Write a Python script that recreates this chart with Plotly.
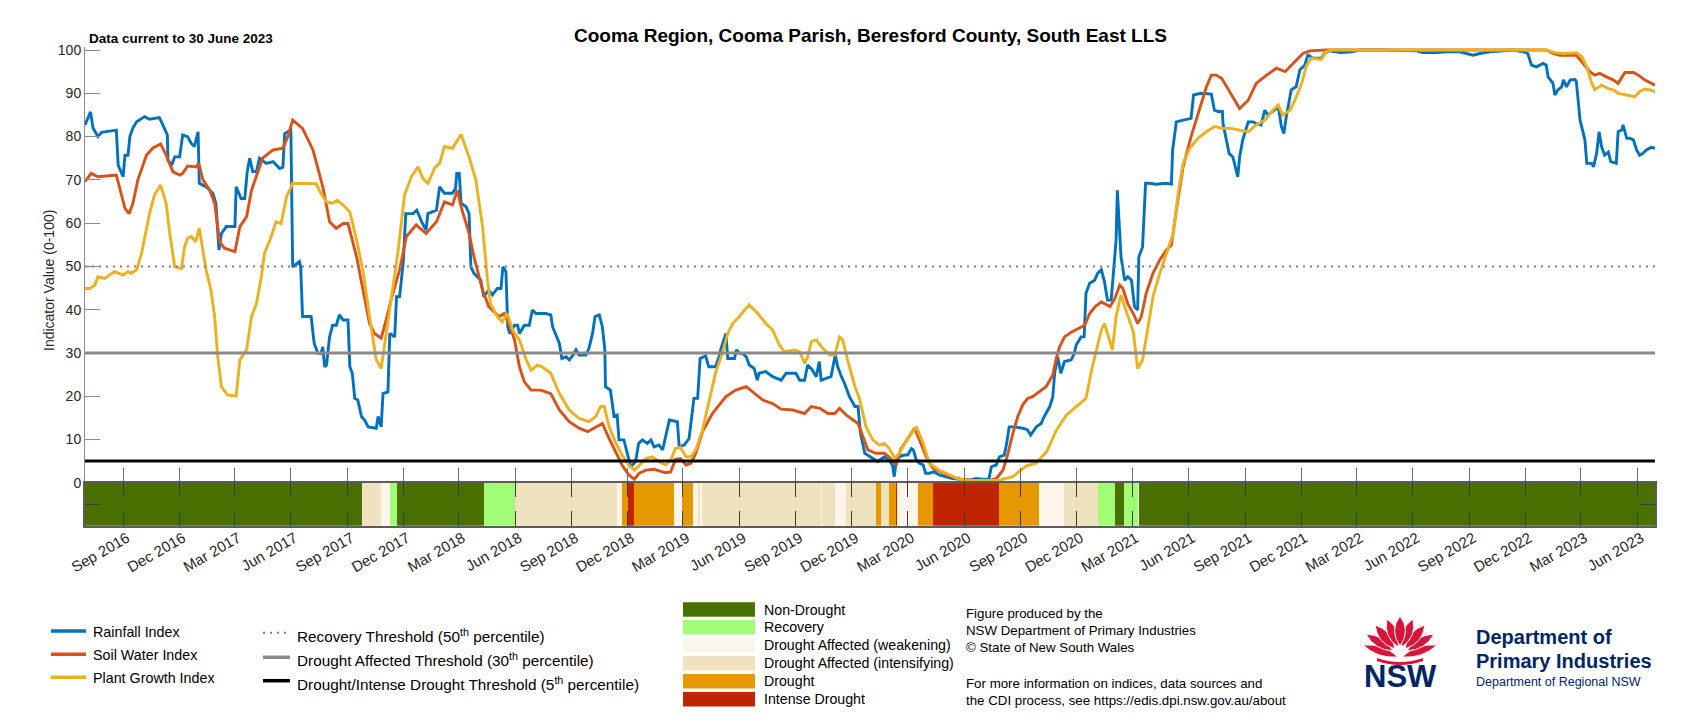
import math
import plotly.graph_objects as go

# ---------------- data ----------------
X_START = "2016-07-01"
X_END = "2023-06-30"

RAIN_DATES = ["2016-07-01","2016-07-10","2016-07-14","2016-07-22","2016-07-28","2016-08-21","2016-08-24","2016-09-01","2016-09-04","2016-09-09","2016-09-12","2016-09-17","2016-09-23","2016-10-06","2016-10-14","2016-10-30","2016-11-02","2016-11-08","2016-11-12","2016-11-13","2016-11-19","2016-11-24","2016-12-02","2016-12-07","2016-12-15","2016-12-21","2016-12-26","2017-01-01","2017-01-03","2017-01-14","2017-01-25","2017-01-30","2017-02-02","2017-02-04","2017-02-08","2017-02-16","2017-03-02","2017-03-04","2017-03-12","2017-03-18","2017-03-22","2017-03-26","2017-03-31","2017-04-06","2017-04-11","2017-04-22","2017-05-03","2017-05-14","2017-05-19","2017-05-22","2017-06-01","2017-06-04","2017-06-15","2017-06-17","2017-06-20","2017-07-04","2017-07-09","2017-07-15","2017-07-20","2017-07-23","2017-07-26","2017-07-29","2017-08-03","2017-08-08","2017-08-14","2017-08-19","2017-08-25","2017-09-02","2017-09-05","2017-09-09","2017-09-13","2017-09-18","2017-09-24","2017-09-29","2017-10-05","2017-10-18","2017-10-21","2017-10-26","2017-10-29","2017-11-06","2017-11-09","2017-11-17","2017-11-20","2017-11-25","2017-12-01","2017-12-05","2017-12-17","2017-12-23","2017-12-31","2018-01-07","2018-01-10","2018-01-24","2018-01-29","2018-02-06","2018-02-19","2018-02-24","2018-02-26","2018-03-02","2018-03-05","2018-03-13","2018-03-18","2018-03-21","2018-03-26","2018-04-06","2018-04-11","2018-04-19","2018-04-25","2018-05-03","2018-05-09","2018-05-12","2018-05-17","2018-05-20","2018-05-23","2018-05-31","2018-06-05","2018-06-08","2018-06-16","2018-06-24","2018-06-29","2018-07-05","2018-07-21","2018-07-29","2018-08-01","2018-08-07","2018-08-12","2018-08-16","2018-08-23","2018-08-28","2018-09-03","2018-09-08","2018-09-13","2018-09-24","2018-09-29","2018-10-05","2018-10-09","2018-10-16","2018-10-21","2018-10-25","2018-10-26","2018-11-03","2018-11-09","2018-11-14","2018-11-17","2018-11-25","2018-11-28","2018-12-02","2018-12-06","2018-12-14","2018-12-19","2018-12-25","2019-01-02","2019-01-08","2019-01-13","2019-01-21","2019-01-27","2019-02-07","2019-02-20","2019-02-23","2019-03-03","2019-03-11","2019-03-14","2019-03-19","2019-03-25","2019-03-29","2019-04-07","2019-04-12","2019-04-23","2019-04-29","2019-05-02","2019-05-10","2019-05-13","2019-05-24","2019-05-27","2019-06-01","2019-06-06","2019-06-12","2019-06-17","2019-06-25","2019-06-30","2019-07-03","2019-07-14","2019-07-25","2019-08-08","2019-08-16","2019-09-01","2019-09-07","2019-09-15","2019-09-20","2019-09-28","2019-10-04","2019-10-09","2019-10-12","2019-10-20","2019-10-28","2019-11-04","2019-11-08","2019-11-14","2019-11-19","2019-11-27","2019-12-06","2019-12-11","2019-12-15","2019-12-22","2020-01-01","2020-01-12","2020-01-23","2020-01-31","2020-02-05","2020-02-08","2020-02-11","2020-02-16","2020-02-24","2020-03-01","2020-03-07","2020-03-10","2020-03-15","2020-03-20","2020-03-26","2020-03-30","2020-04-05","2020-04-13","2020-04-21","2020-04-30","2020-05-11","2020-05-24","2020-06-10","2020-06-20","2020-07-01","2020-07-11","2020-07-15","2020-07-23","2020-07-28","2020-08-05","2020-08-09","2020-08-13","2020-08-22","2020-09-04","2020-09-12","2020-09-17","2020-09-26","2020-10-04","2020-10-09","2020-10-18","2020-10-23","2020-10-26","2020-10-31","2020-11-05","2020-11-11","2020-11-22","2020-11-27","2020-11-30","2020-12-08","2020-12-13","2020-12-16","2020-12-22","2020-12-30","2021-01-04","2021-01-10","2021-01-15","2021-01-20","2021-01-26","2021-01-30","2021-02-03","2021-02-05","2021-02-07","2021-02-11","2021-02-17","2021-02-22","2021-02-28","2021-03-05","2021-03-10","2021-03-12","2021-03-18","2021-03-23","2021-03-29","2021-04-09","2021-04-25","2021-05-04","2021-05-06","2021-05-12","2021-05-23","2021-06-05","2021-06-09","2021-06-21","2021-07-08","2021-07-13","2021-07-19","2021-07-26","2021-07-27","2021-08-06","2021-08-12","2021-08-20","2021-08-23","2021-08-28","2021-09-06","2021-09-14","2021-09-19","2021-09-27","2021-10-03","2021-10-08","2021-10-16","2021-10-25","2021-10-30","2021-11-03","2021-11-07","2021-11-15","2021-11-23","2021-11-29","2021-12-07","2021-12-12","2021-12-15","2021-12-20","2022-01-03","2022-01-08","2022-01-16","2022-02-04","2022-02-21","2022-03-07","2022-04-08","2022-06-07","2022-06-17","2022-07-09","2022-07-26","2022-08-16","2022-09-07","2022-09-18","2022-10-04","2022-11-11","2022-11-28","2022-12-05","2022-12-11","2022-12-19","2022-12-30","2023-01-04","2023-01-07","2023-01-15","2023-01-18","2023-01-23","2023-01-29","2023-02-01","2023-02-06","2023-02-12","2023-02-20","2023-02-22","2023-02-28","2023-03-04","2023-03-08","2023-03-11","2023-03-19","2023-03-22","2023-03-27","2023-03-31","2023-04-04","2023-04-09","2023-04-15","2023-04-19","2023-04-28","2023-05-01","2023-05-07","2023-05-09","2023-05-15","2023-05-20","2023-05-26","2023-05-31","2023-06-05","2023-06-10","2023-06-16","2023-06-24","2023-06-30"]
RAIN_VALUES = [82.7,85.7,82.0,80.0,81.0,81.5,73.4,70.7,75.7,75.7,80.0,82.0,83.4,84.6,84.0,84.4,83.5,81.5,80.4,74.6,73.4,75.3,75.3,80.4,80.0,78.4,77.7,81.1,69.2,68.4,66.9,64.6,59.2,53.8,57.6,59.2,59.2,68.4,65.7,65.7,71.9,75.0,71.9,71.9,75.0,73.8,74.2,72.6,72.9,80.7,81.5,49.9,51.1,49.9,38.4,38.4,32.2,29.9,29.9,31.4,26.8,27.2,33.7,36.4,36.4,38.8,37.6,37.6,26.8,25.3,19.5,19.1,15.3,14.5,12.9,12.6,15.3,12.9,20.6,21.0,34.5,33.7,43.0,43.0,51.1,62.2,62.2,63.0,60.3,58.4,62.2,63.0,68.4,66.9,66.9,68.0,71.5,71.5,64.6,63.8,62.2,49.9,48.4,46.8,43.0,44.5,43.4,44.9,44.9,49.9,48.8,36.0,34.5,36.4,36.4,34.5,36.4,36.4,39.9,39.1,39.1,38.8,36.0,33.7,32.2,28.7,29.1,28.4,29.5,30.7,29.5,29.5,31.0,34.5,38.4,38.8,36.0,30.7,22.2,21.4,15.3,15.6,9.9,9.9,8.3,6.0,3.7,4.9,9.1,9.9,9.1,9.9,8.3,8.7,7.6,14.5,14.1,8.3,8.7,10.2,13.7,19.5,19.5,28.7,29.3,26.8,26.8,29.1,31.0,34.5,28.7,28.7,30.7,29.9,29.9,29.1,27.2,26.4,23.7,25.3,25.7,24.5,23.7,25.3,25.3,23.7,23.7,27.2,26.0,24.5,28.0,23.7,24.1,24.5,29.5,26.8,24.5,23.0,19.9,17.6,17.6,11.4,6.8,5.9,4.9,6.0,5.1,4.1,1.4,4.9,6.0,6.4,6.4,7.9,7.6,5.2,4.5,4.1,2.2,2.2,2.5,1.8,1.4,1.0,0.8,0.6,1.0,0.8,0.8,3.7,4.1,6.0,6.4,9.1,12.9,12.9,12.6,12.2,11.0,12.9,13.7,15.3,17.6,19.9,25.3,29.1,25.3,28.0,28.4,29.9,31.8,33.7,33.7,43.8,46.1,46.8,48.4,49.2,46.5,42.2,42.2,48.4,56.1,67.6,62.2,52.2,46.8,47.6,46.8,40.7,39.9,52.2,54.5,69.2,69.2,69.0,69.2,69.0,76.9,83.4,83.8,84.2,89.6,90.0,89.8,86.1,85.8,85.8,83.0,76.1,75.3,70.7,75.3,79.2,83.4,83.4,83.0,82.7,86.1,85.0,85.8,86.9,82.3,80.7,84.6,90.8,91.5,95.4,96.5,98.8,98.6,98.1,98.1,99.2,99.8,99.4,99.6,100.0,100.0,99.8,99.4,99.4,99.6,99.6,98.8,99.2,99.6,100.0,99.6,99.2,96.5,96.1,96.9,96.5,93.8,92.3,89.6,90.8,91.5,93.1,91.5,93.1,93.2,92.7,83.8,81.5,79.2,73.8,73.8,73.0,76.1,81.1,77.7,75.7,76.4,74.2,73.8,81.1,81.5,82.7,79.6,79.6,79.2,76.9,75.7,76.1,76.9,77.5,77.3]

SOIL_DATES = ["2016-07-01","2016-07-11","2016-07-22","2016-08-21","2016-08-26","2016-09-04","2016-09-11","2016-09-17","2016-09-25","2016-10-09","2016-10-19","2016-11-01","2016-11-10","2016-11-21","2016-12-02","2016-12-07","2016-12-15","2016-12-29","2017-01-02","2017-01-09","2017-01-20","2017-01-28","2017-02-05","2017-02-13","2017-03-02","2017-03-10","2017-03-21","2017-03-29","2017-04-16","2017-05-03","2017-05-19","2017-05-27","2017-06-04","2017-06-20","2017-07-07","2017-07-23","2017-08-03","2017-08-14","2017-08-25","2017-09-02","2017-09-16","2017-09-27","2017-10-07","2017-10-15","2017-10-26","2017-11-03","2017-11-11","2017-11-25","2017-12-06","2017-12-22","2018-01-07","2018-01-24","2018-02-06","2018-02-19","2018-02-27","2018-03-05","2018-03-18","2018-03-26","2018-04-09","2018-04-19","2018-04-25","2018-05-06","2018-05-14","2018-05-22","2018-05-31","2018-06-08","2018-06-16","2018-06-27","2018-07-13","2018-07-29","2018-08-12","2018-08-28","2018-09-13","2018-09-27","2018-10-07","2018-10-21","2018-11-01","2018-11-12","2018-11-22","2018-12-03","2018-12-12","2018-12-20","2018-12-31","2019-01-13","2019-02-01","2019-02-09","2019-02-17","2019-02-25","2019-03-06","2019-03-14","2019-03-22","2019-04-02","2019-04-18","2019-05-10","2019-05-26","2019-06-12","2019-06-22","2019-07-09","2019-07-25","2019-08-08","2019-08-27","2019-09-15","2019-09-26","2019-10-10","2019-10-23","2019-11-03","2019-11-11","2019-11-22","2019-12-11","2019-12-19","2019-12-27","2020-01-09","2020-01-23","2020-01-31","2020-02-11","2020-02-19","2020-03-01","2020-03-12","2020-03-20","2020-03-31","2020-04-11","2020-04-27","2020-05-11","2020-05-27","2020-06-20","2020-07-12","2020-07-23","2020-08-03","2020-08-11","2020-08-19","2020-08-27","2020-09-04","2020-09-12","2020-09-20","2020-10-01","2020-10-12","2020-10-23","2020-10-28","2020-11-03","2020-11-11","2020-11-22","2020-12-03","2020-12-14","2020-12-22","2020-12-31","2021-01-10","2021-01-18","2021-01-24","2021-02-01","2021-02-09","2021-02-14","2021-02-22","2021-03-03","2021-03-10","2021-03-16","2021-03-24","2021-04-04","2021-04-15","2021-04-26","2021-05-04","2021-05-12","2021-05-23","2021-06-05","2021-06-16","2021-06-30","2021-07-08","2021-07-16","2021-07-25","2021-08-07","2021-08-23","2021-09-06","2021-09-19","2021-10-06","2021-10-22","2021-11-05","2021-11-18","2021-12-04","2021-12-15","2022-01-11","2023-01-04","2023-01-15","2023-01-26","2023-02-22","2023-03-05","2023-03-16","2023-03-24","2023-04-01","2023-04-12","2023-04-23","2023-05-01","2023-05-12","2023-05-26","2023-06-03","2023-06-13","2023-06-30"]
SOIL_VALUES = [69.6,71.5,70.7,71.1,68.4,63.4,62.2,64.6,70.0,75.7,77.3,78.3,75.7,71.9,71.1,71.5,73.2,73.0,73.8,70.0,67.6,64.6,55.7,54.2,53.4,59.2,61.5,67.6,75.0,76.9,77.3,80.0,83.8,81.9,76.9,68.4,60.3,58.8,59.9,59.9,52.2,44.5,36.8,34.5,33.4,37.6,42.2,49.2,56.9,59.6,57.6,60.3,64.9,64.2,67.6,63.8,57.6,52.2,44.5,40.7,39.9,38.4,39.1,36.8,33.0,26.8,23.3,21.4,21.4,20.6,16.8,14.1,12.6,11.8,12.6,13.7,10.2,7.2,4.1,1.8,0.8,2.2,2.9,3.1,2.3,2.5,5.4,5.6,4.1,4.5,6.8,11.8,16.0,19.9,21.4,22.2,21.0,19.1,18.3,17.0,16.8,16.0,17.6,17.2,16.0,16.0,17.2,15.6,13.7,10.6,7.6,6.8,6.8,5.9,4.1,7.9,10.2,12.6,9.9,6.0,3.3,2.2,1.4,0.8,0.5,0.5,1.0,2.9,6.8,11.4,15.3,18.0,19.5,19.9,21.0,22.2,24.9,28.4,31.4,33.7,34.8,35.6,36.4,39.1,40.7,41.8,41.1,40.7,42.6,45.7,44.9,41.4,39.1,36.8,38.4,43.8,48.4,51.5,53.8,54.9,63.0,73.0,80.0,85.0,91.5,94.2,94.2,93.4,90.4,86.5,88.4,92.3,94.2,95.8,95.0,96.9,99.2,99.8,100.0,100.0,99.2,98.8,98.8,96.9,95.0,94.2,94.6,93.8,93.1,92.3,94.8,94.8,94.2,93.1,91.9]

PLANT_DATES = ["2016-07-01","2016-07-09","2016-07-17","2016-07-22","2016-08-02","2016-08-10","2016-08-18","2016-09-01","2016-09-09","2016-09-14","2016-09-23","2016-10-01","2016-10-09","2016-10-14","2016-10-22","2016-11-01","2016-11-10","2016-11-16","2016-11-24","2016-12-05","2016-12-10","2016-12-15","2016-12-21","2016-12-28","2017-01-03","2017-01-09","2017-01-14","2017-01-22","2017-01-28","2017-02-02","2017-02-08","2017-02-18","2017-03-04","2017-03-10","2017-03-21","2017-03-29","2017-04-06","2017-04-14","2017-04-19","2017-04-28","2017-05-08","2017-05-16","2017-05-25","2017-06-04","2017-06-20","2017-07-12","2017-07-20","2017-07-29","2017-08-08","2017-08-16","2017-08-25","2017-09-05","2017-09-16","2017-09-27","2017-10-07","2017-10-18","2017-10-26","2017-11-03","2017-11-14","2017-11-22","2017-12-03","2017-12-14","2017-12-25","2018-01-02","2018-01-10","2018-01-21","2018-01-29","2018-02-06","2018-02-19","2018-03-05","2018-03-18","2018-03-29","2018-04-09","2018-04-17","2018-04-22","2018-05-03","2018-05-11","2018-05-19","2018-05-28","2018-06-08","2018-06-19","2018-06-27","2018-07-07","2018-07-15","2018-07-29","2018-08-12","2018-08-28","2018-09-13","2018-09-29","2018-10-10","2018-10-18","2018-10-24","2018-11-01","2018-11-12","2018-11-22","2018-12-03","2018-12-12","2018-12-20","2018-12-31","2019-01-10","2019-01-21","2019-02-01","2019-02-09","2019-02-17","2019-02-25","2019-03-06","2019-03-14","2019-03-22","2019-04-02","2019-04-13","2019-04-23","2019-05-04","2019-05-13","2019-05-21","2019-06-01","2019-06-09","2019-06-17","2019-07-01","2019-07-14","2019-07-25","2019-08-05","2019-08-13","2019-08-30","2019-09-07","2019-09-15","2019-09-20","2019-09-26","2019-10-04","2019-10-15","2019-10-26","2019-11-03","2019-11-11","2019-11-16","2019-11-24","2019-12-06","2019-12-14","2019-12-24","2020-01-04","2020-01-15","2020-01-23","2020-01-31","2020-02-09","2020-02-16","2020-02-27","2020-03-15","2020-03-26","2020-04-05","2020-04-21","2020-05-08","2020-05-24","2020-06-15","2020-07-06","2020-07-28","2020-08-19","2020-09-02","2020-09-10","2020-09-26","2020-10-13","2020-10-29","2020-11-14","2020-11-30","2020-12-16","2020-12-25","2021-01-02","2021-01-10","2021-01-15","2021-01-21","2021-01-28","2021-02-03","2021-02-11","2021-02-19","2021-03-03","2021-03-10","2021-03-18","2021-03-27","2021-04-04","2021-04-15","2021-04-26","2021-05-07","2021-05-15","2021-05-23","2021-06-03","2021-06-16","2021-06-30","2021-07-13","2021-07-27","2021-08-09","2021-08-23","2021-09-06","2021-09-19","2021-10-03","2021-10-16","2021-10-25","2021-11-01","2021-11-13","2021-11-21","2021-12-02","2021-12-10","2021-12-18","2022-01-03","2022-01-11","2022-01-19","2023-01-04","2023-01-18","2023-02-01","2023-02-22","2023-03-03","2023-03-11","2023-03-19","2023-03-24","2023-04-04","2023-04-15","2023-04-23","2023-05-01","2023-05-15","2023-05-28","2023-06-05","2023-06-13","2023-06-22","2023-06-30"]
PLANT_VALUES = [44.9,44.9,45.7,47.6,47.2,48.0,48.8,48.0,48.8,48.4,49.2,53.0,59.2,62.2,66.5,68.8,64.6,57.6,49.9,49.5,54.5,56.5,56.9,55.7,58.8,53.8,49.2,44.5,38.4,29.1,22.2,20.3,20.0,28.4,30.7,38.4,41.4,47.6,53.0,56.1,60.3,59.9,66.1,69.2,69.1,69.1,66.9,64.9,64.6,65.3,64.2,62.6,56.1,48.4,38.4,28.4,26.4,34.5,44.5,53.0,66.5,70.7,73.0,70.3,69.2,72.7,73.8,77.7,77.3,80.5,75.3,70.0,59.2,46.8,41.4,38.4,37.2,39.1,35.3,33.0,28.4,26.0,27.2,26.8,25.3,20.6,16.8,14.9,14.1,15.3,17.6,17.6,12.9,9.1,6.4,4.1,2.9,4.1,5.6,6.0,4.9,4.1,5.2,7.9,8.2,6.0,6.0,7.6,12.2,19.1,25.3,29.9,34.5,36.8,38.4,39.9,41.1,39.1,36.8,35.3,31.8,30.3,30.7,30.3,27.6,29.1,32.6,33.0,31.0,29.5,29.5,33.7,33.0,28.4,22.2,19.1,12.9,9.9,8.7,9.1,7.9,5.6,6.8,9.5,12.9,9.1,4.5,2.9,1.8,0.8,0.5,0.5,0.6,1.4,2.9,3.9,4.5,7.2,12.2,15.6,17.6,19.5,26.0,31.0,35.3,36.8,33.7,30.7,38.4,43.4,39.9,34.9,26.4,28.4,36.0,43.0,48.4,53.0,57.6,66.9,73.8,77.3,79.6,81.1,82.3,81.9,81.9,81.5,81.1,82.7,83.8,86.1,87.3,84.9,86.1,88.4,92.3,96.5,98.1,97.8,99.6,100.0,100.0,99.4,99.2,99.4,98.5,96.1,92.3,90.8,91.9,91.1,90.8,90.0,89.6,89.2,90.4,91.0,90.8,90.4]

SERIES_NAMES = ["Rainfall Index", "Soil Water Index", "Plant Growth Index"]
SERIES_COLORS = ["#0072BD", "#D95319", "#EDB120"]

THRESHOLD_VALUES = [50, 30, 5]
THRESHOLD_NAMES = ["Recovery Threshold (50<sup>th</sup> percentile)",
                   "Drought Affected Threshold (30<sup>th</sup> percentile)",
                   "Drought/Intense Drought Threshold (5<sup>th</sup> percentile)"]

CAT_NAMES = ["Non-Drought", "Recovery", "Drought Affected (weakening)",
             "Drought Affected (intensifying)", "Drought", "Intense Drought"]
CAT_COLORS = ["#4a7002", "#a2fd76", "#fdf5ea", "#eee2bf", "#e59800", "#bf2500"]

BAND_STARTS = ["2016-07-01","2017-09-25","2017-10-26","2017-11-09","2017-11-20","2018-04-12","2018-06-01",
               "2018-11-14","2018-11-22","2018-12-01","2018-12-12","2019-02-15","2019-02-27","2019-03-18",
               "2019-03-26","2019-03-29","2019-04-01","2019-10-11","2019-10-14","2019-11-03","2019-11-22",
               "2020-01-09","2020-01-17","2020-01-31","2020-02-10","2020-02-12","2020-03-17","2020-04-11",
               "2020-07-27","2020-10-01","2020-11-11","2021-01-05","2021-02-01","2021-02-16","2021-03-11",
               "2021-03-12"]
BAND_CATS = [0, 3, 2, 1, 0, 1, 3,
             2, 4, 5, 4, 2, 4, 2,
             3, 2, 3, 2, 3, 2, 3,
             4, 3, 4, 5, 2, 4, 5,
             4, 2, 3, 1, 0, 1, 2,
             0]

TICK_DATES = ["2016-09-01","2016-12-01","2017-03-01","2017-06-01","2017-09-01","2017-12-01","2018-03-01",
              "2018-06-01","2018-09-01","2018-12-01","2019-03-01","2019-06-01","2019-09-01","2019-12-01",
              "2020-03-01","2020-06-01","2020-09-01","2020-12-01","2021-03-01","2021-06-01","2021-09-01",
              "2021-12-01","2022-03-01","2022-06-01","2022-09-01","2022-12-01","2023-03-01","2023-06-01"]
TICK_TEXT = ["Sep 2016","Dec 2016","Mar 2017","Jun 2017","Sep 2017","Dec 2017","Mar 2018",
             "Jun 2018","Sep 2018","Dec 2018","Mar 2019","Jun 2019","Sep 2019","Dec 2019",
             "Mar 2020","Jun 2020","Sep 2020","Dec 2020","Mar 2021","Jun 2021","Sep 2021",
             "Dec 2021","Mar 2022","Jun 2022","Sep 2022","Dec 2022","Mar 2023","Jun 2023"]
Y_TICKS = [0, 10, 20, 30, 40, 50, 60, 70, 80, 90, 100]

TITLE = "Cooma Region, Cooma Parish, Beresford County, South East LLS"
SUBTITLE = "Data current to 30 June 2023"
Y_TITLE = "Indicator Value (0-100)"
INFO_LINES = ["Figure produced by the", "NSW Department of Primary Industries",
              "\u00a9 State of New South Wales", "For more information on indices, data sources and",
              "the CDI process, see https://edis.dpi.nsw.gov.au/about"]

# ---------------- layout geometry (pixels) ----------------
W, H = 1707, 720
L, R, T, B = 85, 1655, 47, 526
Y_MIN, Y_MAX = -10, 100.7
BAND_FRAC = 10 / (Y_MAX - Y_MIN)
FONT = "Liberation Sans, Arial, Helvetica, sans-serif"


def fx(x):
    return (x - L) / (R - L)


def fy(y):
    return (B - y) / (B - T)


def pt(x, y):
    return f"{fx(x):.5f},{fy(y):.5f}"


fig = go.Figure()

# Drought category band
edges = BAND_STARTS + [X_END]
n_c = len(CAT_COLORS)
cscale = []
for i, c in enumerate(CAT_COLORS):
    cscale.append([i / n_c, c])
    cscale.append([(i + 1) / n_c, c])
fig.add_trace(go.Heatmap(x=edges, y=[0, 1], z=[BAND_CATS], xaxis="x2", yaxis="y2",
                         colorscale=cscale, zmin=-0.5, zmax=n_c - 0.5, showscale=False,
                         hoverinfo="skip"))

# Index lines
for d, v, c in [(RAIN_DATES, RAIN_VALUES, SERIES_COLORS[0]),
                (SOIL_DATES, SOIL_VALUES, SERIES_COLORS[1]),
                (PLANT_DATES, PLANT_VALUES, SERIES_COLORS[2])]:
    fig.add_trace(go.Scatter(x=d, y=v, mode="lines", line=dict(color=c, width=2.9),
                             showlegend=False, hoverinfo="skip"))

# Threshold lines
th_styles = [dict(color="#808080", width=2, dash="2px,5px"),
             dict(color="#8a8a8a", width=3),
             dict(color="#000000", width=3)]
for val, st in zip(THRESHOLD_VALUES, th_styles):
    fig.add_trace(go.Scatter(x=[X_START, X_END], y=[val, val], mode="lines", line=st,
                             showlegend=False, hoverinfo="skip"))

shapes = []
ann = []


def text(x, y, s, size=14, anchor="left", bold=False, color="#000000", vanchor="middle", angle=0):
    ann.append(dict(x=fx(x), y=fy(y), xref="paper", yref="paper", text=(f"<b>{s}</b>" if bold else s),
                    showarrow=False, xanchor=anchor, yanchor=vanchor, textangle=angle,
                    font=dict(family=FONT, size=size, color=color)))


text(870, 36, TITLE, size=19, anchor="center", bold=True)
text(87, 39, SUBTITLE, size=13.5, bold=True)
text(49, 281, Y_TITLE, size=14, anchor="center", angle=-90, color="#262626")

# Series legend
ly = [631, 654.3, 677.3]
for name, col, y in zip(SERIES_NAMES, SERIES_COLORS, ly):
    shapes.append(dict(type="line", xref="paper", yref="paper", x0=fx(51), x1=fx(86), y0=fy(y), y1=fy(y),
                       line=dict(color=col, width=3.5)))
    text(91, y + 0.5, name, size=14.3)

# Threshold legend
ty = [632.7, 657.3, 680.7]
for name, st, y in zip(THRESHOLD_NAMES, th_styles, ty):
    s = dict(st)
    s["width"] = 2 if "dash" in s else 3.5
    shapes.append(dict(type="line", xref="paper", yref="paper", x0=fx(263), x1=fx(290), y0=fy(y), y1=fy(y),
                       line=s))
    text(295, y + 2.5, name, size=15.3)

# Category legend
cy = [609.5, 627.3, 645.3, 663.2, 681.3, 699.2]
for name, col, y in zip(CAT_NAMES, CAT_COLORS, cy):
    shapes.append(dict(type="rect", xref="paper", yref="paper", x0=fx(683), x1=fx(755),
                       y0=fy(y - 7.2), y1=fy(y + 7.2), fillcolor=col, line=dict(width=0)))
    text(762, y, name, size=14.2)

# Info text
iy = [613.3, 630.7, 647.7, 683.3, 700.3]
for s, y in zip(INFO_LINES, iy):
    text(964, y, s, size=13.3)

# NSW waratah logo
RED = "#D7153A"
NAVY = "#002664"


def petal(bx, by, tx, ty, hw):
    mx, my = (bx + tx) / 2, (by + ty) / 2
    dx, dy = tx - bx, ty - by
    n = math.hypot(dx, dy)
    ux, uy = -dy / n, dx / n
    c1 = (mx + ux * hw * 2, my + uy * hw * 2)
    c2 = (mx - ux * hw * 2, my - uy * hw * 2)
    return f"M {pt(bx, by)} Q {pt(*c1)} {pt(tx, ty)} Q {pt(*c2)} {pt(bx, by)} Z"


petals = [
    (1398, 657, 1363, 645, 4.2), (1402, 657, 1437, 645, 4.2),
    (1393, 651, 1366, 634, 4.5), (1407, 651, 1434, 634, 4.5),
    (1395, 649, 1375, 625, 5.0), (1405, 649, 1425, 625, 5.0),
    (1398, 647, 1387, 619, 5.0), (1402, 647, 1413, 619, 5.0),
    (1400, 646, 1400, 616, 5.5),
]
for p in petals:
    shapes.append(dict(type="path", xref="paper", yref="paper", path=petal(*p), fillcolor=RED,
                       line=dict(color="white", width=1)))
arc = (f"M {pt(1377, 658)} Q {pt(1400, 666)} {pt(1423, 658)} L {pt(1423, 661)} "
       f"Q {pt(1400, 669)} {pt(1377, 661)} Z")
shapes.append(dict(type="path", xref="paper", yref="paper", path=arc, fillcolor=RED, line=dict(width=0)))

text(1400, 676, "NSW", size=31, anchor="center", bold=True, color=NAVY)
text(1474, 636.5, "Department of", size=20, bold=True, color=NAVY)
text(1474, 661, "Primary Industries", size=20, bold=True, color=NAVY)
text(1474, 682, "Department of Regional NSW", size=12.5, color=NAVY)

fig.update_layout(
    width=W, height=H, template="none",
    margin=dict(l=L, r=W - R, t=T, b=H - B, pad=0, autoexpand=False),
    paper_bgcolor="white", plot_bgcolor="rgba(0,0,0,0)",
    showlegend=False,
    font=dict(family=FONT, size=14, color="#262626"),
    xaxis=dict(type="date", range=[X_START, X_END], domain=[0, 1], anchor="free", position=BAND_FRAC,
               tickvals=TICK_DATES, showticklabels=False, ticks="inside", ticklen=15, tickwidth=1,
               tickcolor="#6e6e6e", showline=False, showgrid=False, zeroline=False, automargin=False),
    yaxis=dict(range=[Y_MIN, Y_MAX], domain=[0, 1], anchor="x", tickvals=Y_TICKS, ticks="inside",
               ticklen=15, tickwidth=1, tickcolor="#8c8c8c", showline=True, linecolor="#8c8c8c",
               linewidth=1, showgrid=False, zeroline=False, automargin=False,
               tickfont=dict(family=FONT, size=14, color="#262626")),
    xaxis2=dict(type="date", range=[X_START, X_END], domain=[0, 1], anchor="y2", tickvals=TICK_DATES,
                ticktext=TICK_TEXT, tickangle=-30, ticks="inside", ticklen=15, tickwidth=1,
                tickcolor="#3c3c3c", showline=True, linecolor="#5c5c5c", linewidth=1.5, mirror="ticks",
                showgrid=False, zeroline=False, automargin=False, ticklabelshift=4, ticklabelstandoff=-4,
                tickfont=dict(family=FONT, size=15, color="#262626")),
    yaxis2=dict(range=[0, 1], domain=[0, BAND_FRAC], anchor="x2", tickvals=[0.5], showticklabels=False,
                ticks="inside", ticklen=15, tickwidth=1, tickcolor="#3c3c3c", showline=True,
                linecolor="#5c5c5c", linewidth=1.5, mirror="ticks", showgrid=False, zeroline=False,
                automargin=False),
    shapes=shapes,
    annotations=ann,
)

fig.write_html("out.html")
